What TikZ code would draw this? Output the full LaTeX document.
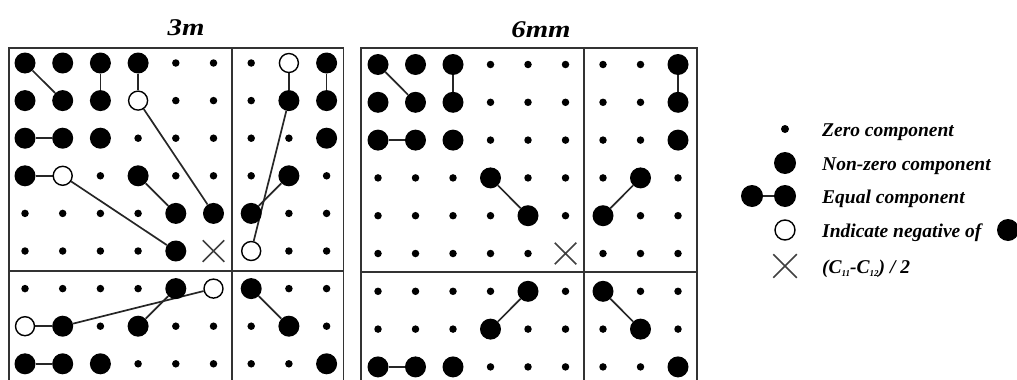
\documentclass[tikz,border=0pt]{standalone}
\usepackage{fontspec}
\setmainfont{Liberation Serif}
\usetikzlibrary{shapes.misc,backgrounds}
\newcommand{\mysub}[1]{\raisebox{-2.5pt}{\fontsize{9}{10}\selectfont #1}}
\begin{document}
\begin{tikzpicture}[x=1pt,y=-1pt,
  frame/.style={draw=black!80,line width=1.8pt},
  cellB/.style={circle,fill=black,inner sep=0,minimum size=21pt},
  cellz/.style={circle,fill=black,inner sep=0,minimum size=7.5pt},
  cellO/.style={circle,draw=black,fill=white,line width=1.4pt,inner sep=0,minimum size=19pt},
  cellX/.style={cross out,draw=black!75,line width=1.5pt,inner sep=0,minimum size=20pt},
  conn/.style={draw=black!85,line width=1.7pt},
  lab/.style={anchor=base west,inner sep=0,font=\fontsize{19.5}{22}\selectfont\bfseries\itshape},
  ttl/.style={anchor=base,inner sep=0,font=\fontsize{24}{28}\selectfont\bfseries\itshape}]
\useasboundingbox (0,0) rectangle (1017,380);

% frames
\draw[frame] (9,420) -- (9,48) -- (343.5,48) -- (343.5,420);
\draw[frame] (232,48) -- (232,420);
\draw[frame] (9,271) -- (343.5,271);
\draw[frame] (361,420) -- (361,48) -- (697,48) -- (697,420);
\draw[frame] (584,48) -- (584,420);
\draw[frame] (361,272) -- (697,272);

% titles
\node[ttl] (t3) at (186,35) {\scalebox{1.2}[1]{3m}};
\node[ttl] (t6) at (541,37) {\scalebox{1.2}[1]{6mm}};

% left grid (3m)
\foreach \row [count=\r] in {
  {B,B,B,B,z,z,z,O,B},
  {B,B,B,O,z,z,z,B,B},
  {B,B,B,z,z,z,z,z,B},
  {B,O,z,B,z,z,z,B,z},
  {z,z,z,z,B,B,B,z,z},
  {z,z,z,z,B,X,O,z,z},
  {z,z,z,z,B,O,B,z,z},
  {O,B,z,B,z,z,z,B,z},
  {B,B,B,z,z,z,z,z,B}}{
  \foreach \t [count=\c] in \row {
    \node[cell\t] (L-\r-\c) at ({25+37.7*(\c-1)},{63+37.6*(\r-1)}) {};
  }
}

% right grid (6mm)
\foreach \row [count=\r] in {
  {B,B,B,z,z,z,z,z,B},
  {B,B,B,z,z,z,z,z,B},
  {B,B,B,z,z,z,z,z,B},
  {z,z,z,B,z,z,z,B,z},
  {z,z,z,z,B,z,B,z,z},
  {z,z,z,z,z,X,z,z,z},
  {z,z,z,z,B,z,B,z,z},
  {z,z,z,B,z,z,z,B,z},
  {B,B,B,z,z,z,z,z,B}}{
  \foreach \t [count=\c] in \row {
    \node[cell\t] (R-\r-\c) at ({378+37.5*(\c-1)},{64.5+37.8*(\r-1)}) {};
  }
}

% legend
\node[cellz,minimum size=8pt] (kz) at (785,129) {};
\node[cellB,minimum size=22pt] (kb) at (785,163) {};
\node[cellB,minimum size=22pt] (ke1) at (752,196) {};
\node[cellB,minimum size=22pt] (ke2) at (785,196) {};
\node[cellO,minimum size=20pt] (ko) at (785,230) {};
\node[cellB,minimum size=22pt] (kn) at (1008,230) {};
\node[cellX,minimum size=22pt] (kx) at (785,266) {};
\node[lab] (tz) at (822,136.5) {Zero component};
\node[lab] (tb) at (822,170.5) {Non-zero component};
\node[lab] (te) at (822,203.5) {Equal component};
\node[lab] (to) at (822,237.5) {Indicate negative of};
\node[lab] (tx) at (822,273.5) {(C\mysub{11}-C\mysub{12}) / 2};

% connectors
\begin{scope}[on background layer]
\draw[conn] (L-1-1) -- (L-2-2);
\draw[conn] (L-1-3) -- (L-2-3);
\draw[conn] (L-1-4) -- (L-2-4);
\draw[conn] (L-2-4) -- (L-5-6);
\draw[conn] (L-3-1) -- (L-3-2);
\draw[conn] (L-4-1) -- (L-4-2);
\draw[conn] (L-4-2) -- (L-6-5);
\draw[conn] (L-4-4) -- (L-5-5);
\draw[conn] (L-1-8) -- (L-2-8);
\draw[conn] (L-1-9) -- (L-2-9);
\draw[conn] (L-2-8) -- (L-6-7);
\draw[conn] (L-4-8) -- (L-5-7);
\draw[conn] (L-7-5) -- (L-8-4);
\draw[conn] (L-7-6) -- (L-8-2);
\draw[conn] (L-8-1) -- (L-8-2);
\draw[conn] (L-9-1) -- (L-9-2);
\draw[conn] (L-7-7) -- (L-8-8);
\draw[conn] (R-1-1) -- (R-2-2);
\draw[conn] (R-1-3) -- (R-2-3);
\draw[conn] (R-3-1) -- (R-3-2);
\draw[conn] (R-1-9) -- (R-2-9);
\draw[conn] (R-4-4) -- (R-5-5);
\draw[conn] (R-4-8) -- (R-5-7);
\draw[conn] (R-7-5) -- (R-8-4);
\draw[conn] (R-7-7) -- (R-8-8);
\draw[conn] (R-9-1) -- (R-9-2);
\draw[conn] (ke1) -- (ke2);
\end{scope}
\end{tikzpicture}
\end{document}
